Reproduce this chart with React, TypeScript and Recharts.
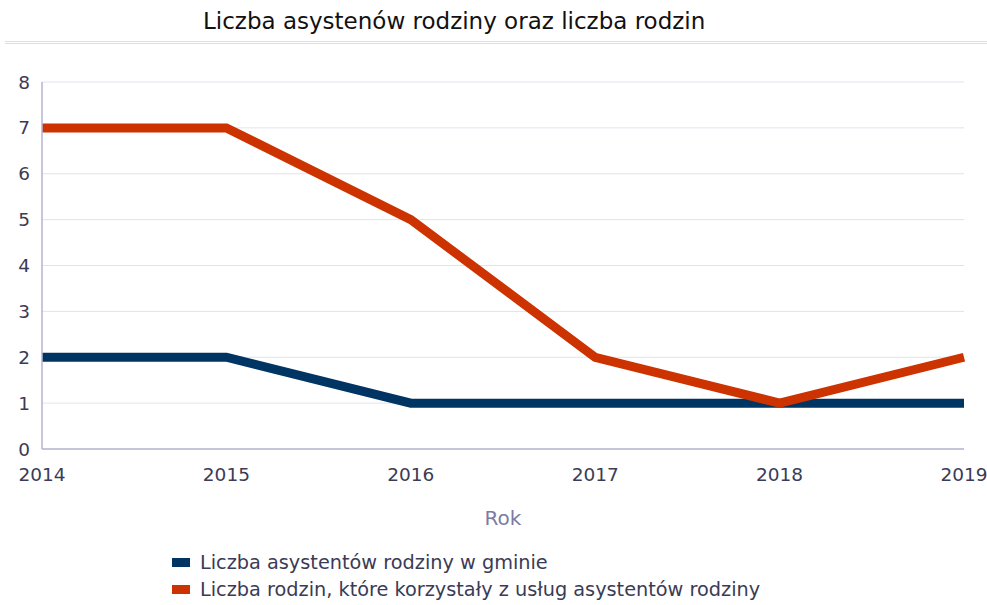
import { CartesianGrid, Legend, Line, LineChart, XAxis, YAxis } from 'recharts';

const years = ['2014', '2015', '2016', '2017', '2018', '2019'];
const assistants = [2, 2, 1, 1, 1, 1];
const families = [7, 7, 5, 2, 1, 2];
const yTicks = [0, 1, 2, 3, 4, 5, 6, 7, 8];

const BLUE = '#003463';
const RED = '#cc3300';
const FONT = '"DejaVu Sans", "Open Sans", sans-serif';

const data = years.map((year, i) => ({
  year,
  assistants: assistants[i],
  families: families[i],
}));

const legendItems = [
  { label: 'Liczba asystentów rodziny w gminie', color: BLUE },
  { label: 'Liczba rodzin, które korzystały z usług asystentów rodziny', color: RED },
];

function ChartLegend() {
  return (
    <div style={{ fontFamily: FONT, fontSize: 19.3, color: '#3b3b55', lineHeight: '27px' }}>
      {legendItems.map((item) => (
        <div key={item.label} style={{ display: 'flex', alignItems: 'center' }}>
          <span
            style={{
              display: 'inline-block',
              width: 18,
              height: 9,
              background: item.color,
              marginRight: 10,
            }}
          />
          {item.label}
        </div>
      ))}
    </div>
  );
}

export default function App() {
  return (
    <div style={{ position: 'relative', width: 987, height: 605, background: '#fff' }}>
      <style>{'body{margin:0}'}</style>
      <div
        style={{
          position: 'absolute',
          top: 6,
          left: 203,
          fontFamily: FONT,
          fontSize: 23,
          lineHeight: '30px',
          color: '#111',
          whiteSpace: 'nowrap',
        }}
      >
        Liczba asystenów rodziny oraz liczba rodzin
      </div>
      <div
        style={{
          position: 'absolute',
          top: 41,
          left: 5,
          width: 982,
          height: 3,
          borderTop: '1px solid #dcdcec',
          borderBottom: '1px solid #dcdcec',
          boxSizing: 'border-box',
        }}
      />
      <LineChart
        width={987}
        height={605}
        data={data}
        margin={{ top: 82, right: 23, left: 0, bottom: 0 }}
        style={{ position: 'absolute', top: 0, left: 0 }}
      >
        <CartesianGrid vertical={false} stroke="#e2e2ee" />
        <XAxis
          dataKey="year"
          height={156}
          axisLine={{ stroke: '#b4b4d0', strokeWidth: 1.5 }}
          tickLine={false}
          tickSize={0}
          tickMargin={19}
          interval={0}
          tick={{ fontSize: 18.5, fill: '#3b3b55', fontFamily: FONT }}
          label={{
            value: 'Rok',
            position: 'insideTop',
            offset: 62,
            fill: '#7d7aa3',
            fontSize: 20,
            fontFamily: FONT,
          }}
        />
        <YAxis
          width={42}
          domain={[0, 8]}
          ticks={yTicks}
          interval={0}
          axisLine={{ stroke: '#b4b4d0', strokeWidth: 1.5 }}
          tickLine={false}
          tickSize={0}
          tickMargin={12}
          tick={{ fontSize: 18.5, fill: '#3b3b55', fontFamily: FONT }}
        />
        <Legend
          layout="vertical"
          align="center"
          verticalAlign="middle"
          content={<ChartLegend />}
          wrapperStyle={{ top: 549, left: 172, width: 800 }}
        />
        <Line
          dataKey="assistants"
          name="Liczba asystentów rodziny w gminie"
          stroke={BLUE}
          strokeWidth={9}
          dot={false}
          activeDot={false}
          type="linear"
          isAnimationActive={false}
        />
        <Line
          dataKey="families"
          name="Liczba rodzin, które korzystały z usług asystentów rodziny"
          stroke={RED}
          strokeWidth={9}
          dot={false}
          activeDot={false}
          type="linear"
          isAnimationActive={false}
        />
      </LineChart>
    </div>
  );
}
